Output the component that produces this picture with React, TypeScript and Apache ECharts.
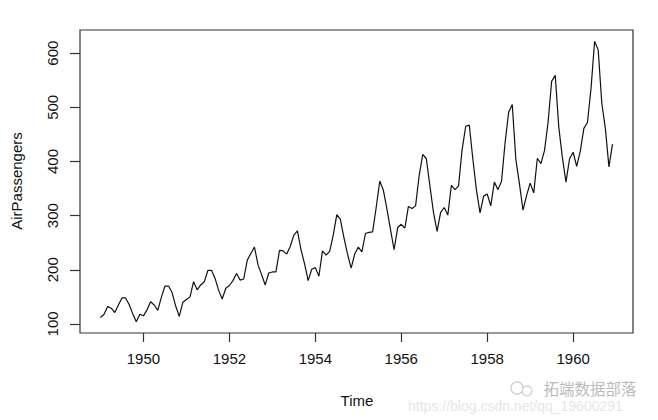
import React, { useEffect, useRef } from "react";
import * as echarts from "echarts";

const startYear = 1949;
const passengers: number[] = [
  112, 118, 132, 129, 121, 135, 148, 148, 136, 119, 104, 118,
  115, 126, 141, 135, 125, 149, 170, 170, 158, 133, 114, 140,
  145, 150, 178, 163, 172, 178, 199, 199, 184, 162, 146, 166,
  171, 180, 193, 181, 183, 218, 230, 242, 209, 191, 172, 194,
  196, 196, 236, 235, 229, 243, 264, 272, 237, 211, 180, 201,
  204, 188, 235, 227, 234, 264, 302, 293, 259, 229, 203, 229,
  242, 233, 267, 269, 270, 315, 364, 347, 312, 274, 237, 278,
  284, 277, 317, 313, 318, 374, 413, 405, 355, 306, 271, 306,
  315, 301, 356, 348, 355, 422, 465, 467, 404, 347, 305, 336,
  340, 318, 362, 348, 363, 435, 491, 505, 404, 359, 310, 337,
  360, 342, 406, 396, 420, 472, 548, 559, 463, 407, 362, 405,
  417, 391, 419, 461, 472, 535, 622, 606, 508, 461, 390, 432,
];
const xTicks: number[] = [1950, 1952, 1954, 1956, 1958, 1960];
const yTicks: number[] = [100, 200, 300, 400, 500, 600];

export default function App() {
  const ref = useRef<HTMLDivElement>(null);
  useEffect(() => {
    if (!ref.current) return;
    const chart = echarts.init(ref.current, null, { renderer: "svg" });
    const data = passengers.map((v, i) => [startYear + i / 12, v]);
    const xs = data.map((d) => d[0]);
    const xmin = Math.min(...xs), xmax = Math.max(...xs);
    const ymin = Math.min(...passengers), ymax = Math.max(...passengers);
    const xpad = (xmax - xmin) * 0.04, ypad = (ymax - ymin) * 0.04;
    const font = "'Liberation Sans', Arial, Helvetica, sans-serif";
    chart.setOption({
      animation: false,
      backgroundColor: "#fff",
      grid: {
        left: 80, top: 30, right: 25, bottom: 87,
        show: true, borderColor: "#333", borderWidth: 1.2, backgroundColor: "transparent",
      },
      xAxis: {
        type: "value",
        min: xmin - xpad,
        max: xmax + xpad,
        axisLine: { show: false },
        splitLine: { show: false },
        axisTick: { show: true, customValues: xTicks, length: 9, inside: false, lineStyle: { color: "#333", width: 1.2 } },
        axisLabel: {
          customValues: xTicks, margin: 18, color: "#111", fontSize: 15, fontFamily: font,
          formatter: (v: number) => String(Math.round(v)),
        },
      },
      yAxis: {
        type: "value",
        min: ymin - ypad,
        max: ymax + ypad,
        axisLine: { show: false },
        splitLine: { show: false },
        axisTick: { show: true, customValues: yTicks, length: 10, lineStyle: { color: "#333", width: 1.2 } },
        axisLabel: {
          customValues: yTicks, rotate: 90, margin: 20, color: "#111", fontSize: 15, fontFamily: font,
          formatter: (v: number) => String(Math.round(v)),
        },
      },
      series: [
        {
          type: "line",
          data,
          showSymbol: false,
          lineStyle: { color: "#111", width: 1.2 },
          silent: true,
        },
      ],
      graphic: [
        {
          type: "text", x: 357, y: 400,
          style: { text: "Time", fontSize: 15, fontFamily: font, fill: "#111", align: "center", verticalAlign: "middle" },
        },
        {
          type: "text", x: 16, y: 181, rotation: Math.PI / 2,
          style: { text: "AirPassengers", fontSize: 15, fontFamily: font, fill: "#111", align: "center", verticalAlign: "middle" },
        },
        {
          type: "circle", shape: { cx: 517, cy: 388, r: 6 },
          style: { fill: "none", stroke: "#ccc", lineWidth: 1.2 },
        },
        {
          type: "circle", shape: { cx: 527, cy: 391, r: 5 },
          style: { fill: "#fff", stroke: "#ccc", lineWidth: 1.2 },
        },
        {
          type: "text", x: 590, y: 388,
          style: { text: "拓端数据部落", fontSize: 15.5, fontFamily: "'Noto Sans CJK SC', sans-serif", fill: "#bbb", align: "center", verticalAlign: "middle" },
        },
        {
          type: "text", x: 408, y: 406,
          style: { text: "https://blog.csdn.net/qq_19600291", fontSize: 14, fontFamily: font, fill: "#e6e6e6", align: "left", verticalAlign: "middle" },
        },
      ],
    });
    return () => chart.dispose();
  }, []);
  return (
    <div
      ref={ref}
      style={{ position: "absolute", left: 0, top: 0, width: 658, height: 420, background: "#fff" }}
    />
  );
}
